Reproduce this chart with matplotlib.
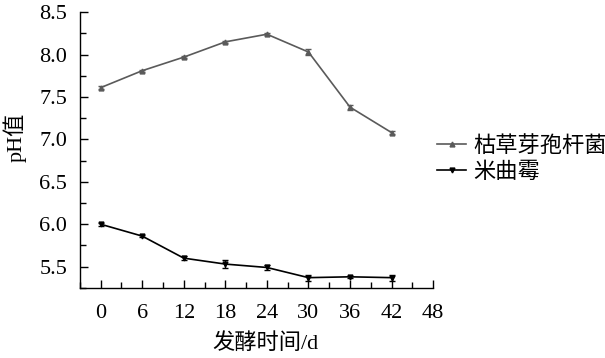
import numpy as np
import matplotlib as mpl
mpl.use('Agg')
import matplotlib.pyplot as plt
from matplotlib.ticker import MultipleLocator

plt.rcParams['font.family'] = ['Liberation Serif', 'Noto Sans CJK SC']
plt.rcParams['mathtext.fontset'] = 'stix'

# fermentation time (d)
days = [0, 6, 12, 18, 24, 30, 36, 42]
# pH, Bacillus subtilis
ph_bs = [7.61, 7.81, 7.97, 8.15, 8.24, 8.03, 7.38, 7.08]
err_bs = [0.015, 0.01, 0.015, 0.015, 0.015, 0.03, 0.03, 0.015]
# pH, Aspergillus
ph_asp = [6.00, 5.86, 5.60, 5.53, 5.49, 5.37, 5.38, 5.37]
err_asp = [0.02, 0.015, 0.02, 0.05, 0.035, 0.035, 0.01, 0.035]

labels = ['枯草芽孢杆菌', '米曲霉']

fig = plt.figure(figsize=(6.05, 3.58), dpi=100)
ax = fig.add_axes([0.132, 0.196, 0.584, 0.770])

ax.errorbar(days, ph_bs, yerr=err_bs, color='#5a5a5a', lw=1.2, marker='^', ms=3.5,
            capsize=2.5, elinewidth=1.0, capthick=1.0, label=labels[0])
ax.errorbar(days, ph_asp, yerr=err_asp, color='black', lw=1.2, marker='v', ms=3.5,
            capsize=2.5, elinewidth=1.0, capthick=1.0, label=labels[1])

ax.set_xlim(-3, 48)
ax.set_ylim(5.25, 8.5)
ax.set_xticks(np.arange(0, 49, 6))
ax.set_yticks([5.5, 6.0, 6.5, 7.0, 7.5, 8.0, 8.5])
ax.xaxis.set_minor_locator(MultipleLocator(3))
ax.yaxis.set_minor_locator(MultipleLocator(0.25))
ax.tick_params(which='both', direction='in', labelsize=16, width=1.0)
ax.tick_params(which='major', length=6)
ax.tick_params(which='minor', length=4)
ax.tick_params(axis='x', pad=12)
ax.tick_params(axis='y', pad=9)
ax.spines['top'].set_visible(False)
ax.spines['right'].set_visible(False)
for s in ['left', 'bottom']:
    ax.spines[s].set_linewidth(1.0)

ax.set_xlabel('发酵时间/d', fontsize=16)
ax.set_ylabel('pH值', fontsize=16)
ax.xaxis.set_label_coords(0.524, -0.163)
ax.yaxis.set_label_coords(-0.15, 0.547)

h, l = ax.get_legend_handles_labels()
h = [x[0] for x in h]
fig.legend(h, l, loc='center left', bbox_to_anchor=(0.69, 0.555), frameon=False,
           fontsize=16, handlelength=1.3, handletextpad=0.3, labelspacing=0.25)

plt.savefig('out.png', dpi=100)
